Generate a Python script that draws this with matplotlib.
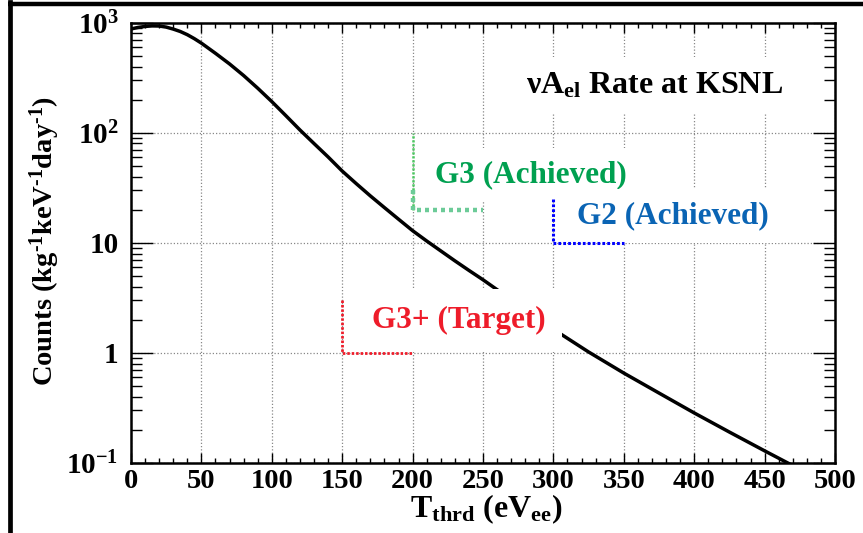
import matplotlib
matplotlib.use("Agg")
import matplotlib.pyplot as plt
from matplotlib.ticker import FixedLocator, MultipleLocator, LogLocator, NullFormatter
from matplotlib.lines import Line2D
import numpy as np

plt.rcParams['font.family'] = ['Liberation Serif', 'DejaVu Sans']
plt.rcParams['font.weight'] = 'bold'

# Expected coherent-scattering rate vs. detector threshold
threshold_ev = [0, 5, 10, 15, 20, 25, 30, 35, 40, 45, 50, 60, 70, 80, 90,
                100, 110, 120, 130, 140, 150, 160, 170, 180, 190, 200, 210,
                220, 230, 240, 250, 275, 300, 325, 350, 375, 400, 425, 450,
                475]
rate = [877, 906, 925, 935, 933, 912, 875, 832, 778, 716, 652, 527, 422, 331,
        254, 192, 143, 106, 79.8, 60.3, 44.9, 34.5, 26.7, 20.9, 16.4, 12.9,
        10.4, 8.45, 6.87, 5.62, 4.62, 2.75, 1.64, 1.02, 0.656, 0.432, 0.285,
        0.191, 0.129, 0.0877]

# Detector generations: (threshold, rate level, upper end of marker)
g3_thr, g3_rate, g3_top = 200, 20, 100
g2_thr, g2_rate, g2_top = 300, 10, 25
g3p_thr, g3p_rate, g3p_top = 150, 1, 3

y_ticks = [0.1, 1, 10, 100, 1000]
y_ticklabels = [r'$\mathregular{10^{-1}}$', '1', '10',
                r'$\mathregular{10^{2}}$', r'$\mathregular{10^{3}}$']
x_ticks = [0, 50, 100, 150, 200, 250, 300, 350, 400, 450, 500]

W, H = 863, 533
fig = plt.figure(figsize=(W / 100, H / 100), dpi=100)
ax = fig.add_axes([131 / W, 70 / H, 704 / W, 440.3 / H])

ax.plot(threshold_ev, rate, color='black', lw=2.5, zorder=3,
        solid_joinstyle='round')

ax.set_yscale('log')
ax.set_xlim(0, 500)
ax.set_ylim(0.1, 1000)

ax.xaxis.set_major_locator(FixedLocator(x_ticks))
ax.xaxis.set_minor_locator(MultipleLocator(10))
ax.set_xticklabels([str(v) for v in x_ticks])
ax.yaxis.set_major_locator(FixedLocator(y_ticks))
ax.yaxis.set_minor_locator(LogLocator(base=10, subs=np.arange(2, 10)))
ax.yaxis.set_minor_formatter(NullFormatter())
ax.set_yticklabels(y_ticklabels)

ax.tick_params(axis='x', which='major', direction='in', length=7.5, width=1,
               top=True, labelsize=20.5, pad=4)
ax.tick_params(axis='x', which='minor', direction='in', length=3.8, width=1,
               top=True)
ax.tick_params(axis='y', which='major', direction='in', length=16, width=1,
               right=True, labelsize=21, pad=9)
ax.tick_params(axis='y', which='minor', direction='in', length=8, width=1,
               right=True)
for lbl in ax.get_xticklabels() + ax.get_yticklabels():
    lbl.set_fontweight('bold')

for sp in ax.spines.values():
    sp.set_linewidth(1.8)

ax.grid(True, which='major', color='#888888', linestyle=(0, (1, 1.6)),
        lw=0.9, zorder=1)

box = dict(facecolor='white', edgecolor='none', pad=9)

# Detector threshold markers
dot = (0, (0.9, 0.7))
ax.plot([g3_thr, g3_thr], [g3_rate, g3_top], color='#4cc860', lw=1.8,
        linestyle=dot, zorder=6)
ax.plot([g3_thr, g3_thr, g3_thr + 50], [30, g3_rate, g3_rate],
        color='#6ccb98', lw=3.2, linestyle=(0, (0.9, 0.9)), zorder=6)
ax.plot([g2_thr, g2_thr, g2_thr + 50], [g2_top, g2_rate, g2_rate],
        color='#0000ff', lw=2.2, linestyle=dot, zorder=6)
ax.plot([g3p_thr, g3p_thr, g3p_thr + 50], [g3p_top, g3p_rate, g3p_rate],
        color='#ee1c2a', lw=2.0, linestyle=dot, zorder=6)

ax.text(216, 35.7, 'G3 (Achieved)', color='#00a050', fontsize=22.5,
        fontweight='bold', ha='left', va='baseline', bbox=box, zorder=5)
ax.text(317, 15.1, 'G2 (Achieved)', color='#0a64b4', fontsize=22.5,
        fontweight='bold', ha='left', va='baseline', bbox=box, zorder=5)
ax.text(171, 1.68, 'G3+ (Target)', color='#ee1c2a', fontsize=22.5,
        fontweight='bold', ha='left', va='baseline',
        bbox=dict(facecolor='white', edgecolor='none', pad=12), zorder=5)

ax.text((526 - 131) / 704, 0.840, r'$\mathregular{ν A_{el}}$ Rate at KSNL',
        transform=ax.transAxes, fontsize=23, fontweight='bold',
        ha='left', va='baseline', bbox=dict(facecolor='white',
                                             edgecolor='none', pad=10),
        zorder=5)

fig.text(486 / W, (H - 517) / H,
         r'$\mathregular{T_{thrd}}$ $\mathregular{(eV_{ee})}$',
         fontsize=23, fontweight='bold', ha='center', va='baseline')
fig.text(45 / W, 1 - 241 / H,
         r'Counts $\mathregular{(kg^{‐1}keV^{‐1}day^{‐1})}$',
         fontsize=20.5, fontweight='bold', ha='center', va='center',
         rotation=90)

# Outer frame
fig.add_artist(Line2D([9.5 / W, 9.5 / W], [0, 1 - 2 / H], color='black',
                      lw=3.4, transform=fig.transFigure,
                      solid_capstyle='projecting'))
fig.add_artist(Line2D([7.5 / W, 1], [1 - 4 / H, 1 - 4 / H], color='black',
                      lw=3.2, transform=fig.transFigure,
                      solid_capstyle='butt'))

fig.savefig('out.png', dpi=100)
